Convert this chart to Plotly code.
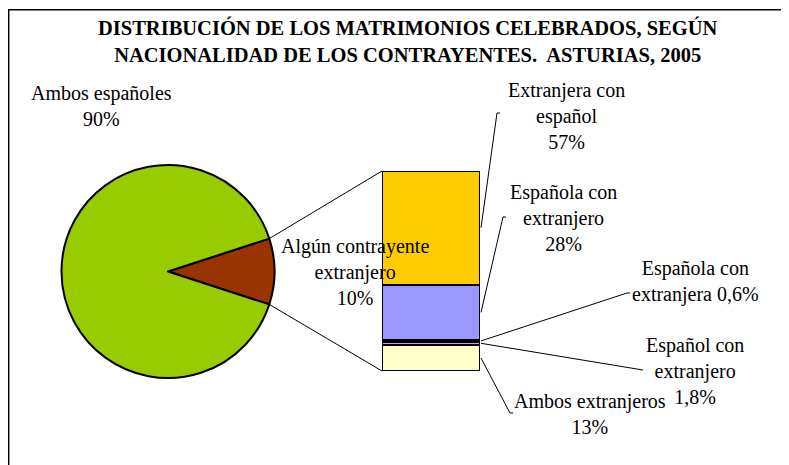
import math
import plotly.graph_objects as go

W, H = 789, 465
OFF = 8  # page body margin of the html page

# ---- data ----
pie_labels = ["Algún contrayente<br>extranjero", "Ambos españoles"]
pie_values = [10, 90]
pie_colors = ["#993300", "#99CC00"]

# bar segments, bottom to top
bar_labels = ["Ambos extranjeros", "Español con<br>extranjero",
              "Española con<br>extranjera", "Española con<br>extranjero",
              "Extranjera con<br>español"]
bar_values = [13, 1.8, 0.6, 28, 57]
bar_text = ["13%", "1,8%", "0,6%", "28%", "57%"]
bar_colors = ["#FFFFCC", "#CC99FF", "#3366FF", "#9999FF", "#FFCC00"]

title = ("DISTRIBUCIÓN DE LOS MATRIMONIOS CELEBRADOS, SEGÚN<br>"
         "NACIONALIDAD DE LOS CONTRAYENTES.  ASTURIAS, 2005")

# ---- layout geometry (page pixels) ----
def px(x):
    return (x - OFF) / W

def py(y):
    return 1 - (y - OFF) / H

pie_cx, pie_cy, pie_r = 168.0, 271.5, 106.5
bar_x0, bar_x1, bar_top, bar_bot = 382.0, 480.0, 171.0, 371.0

FONT = "Liberation Serif"
LBL_FONT = dict(family=FONT, size=20, color="black")

fig = go.Figure()

share = pie_values[0] / sum(pie_values)
half_angle = 360 * share / 2
fig.add_trace(go.Pie(
    labels=pie_labels, values=pie_values, sort=False, direction="clockwise",
    rotation=90 - half_angle,
    marker=dict(colors=pie_colors, line=dict(color="black", width=2)),
    textinfo="none", hoverinfo="label+percent", showlegend=False,
    domain=dict(x=[px(pie_cx - pie_r), px(pie_cx + pie_r)],
                y=[py(pie_cy + pie_r), py(pie_cy - pie_r)]),
))

total = sum(bar_values)
for lab, v, c in zip(bar_labels, bar_values, bar_colors):
    fig.add_trace(go.Bar(
        x=[0.5], y=[v], width=[1], name=lab, showlegend=False,
        marker=dict(color=c, line=dict(color="black", width=2)),
        hoverinfo="name+y",
    ))

fig.update_layout(
    barmode="stack",
    width=W, height=H,
    margin=dict(l=0, r=0, t=0, b=0),
    paper_bgcolor="white", plot_bgcolor="rgba(0,0,0,0)",
    xaxis=dict(domain=[px(bar_x0), px(bar_x1)], range=[0, 1], visible=False, fixedrange=True),
    yaxis=dict(domain=[py(bar_bot), py(bar_top)], range=[0, total], visible=False, fixedrange=True),
    font=LBL_FONT,
)

shapes = []
shapes.append(dict(type="rect", xref="paper", yref="paper",
                   x0=px(8.7), y0=py(9.7), x1=px(W + 40), y1=py(H + 40),
                   line=dict(color="black", width=1.5), layer="below"))

th = math.radians(half_angle)
ex = pie_cx + pie_r * math.cos(th)
ey_up = pie_cy - pie_r * math.sin(th)
ey_dn = pie_cy + pie_r * math.sin(th)
shapes.append(dict(type="line", xref="paper", yref="paper",
                   x0=px(ex), y0=py(ey_up), x1=px(bar_x0), y1=py(bar_top),
                   line=dict(color="black", width=1)))
shapes.append(dict(type="line", xref="paper", yref="paper",
                   x0=px(ex), y0=py(ey_dn), x1=px(bar_x0), y1=py(bar_bot),
                   line=dict(color="black", width=1)))

def seg_mid_y(i):
    cum = sum(bar_values[:i]) + bar_values[i] / 2
    return bar_bot - (bar_bot - bar_top) * cum / total

leader_ends = [(510, 413, 3), (643, 370, 0), (627, 293, 3), (503, 217, 3), (497, 113, 3)]
for i, (lx, ly, hook) in enumerate(leader_ends):
    sy = seg_mid_y(i)
    path = f"M {px(bar_x1 + 1)} {py(sy)} L {px(lx)} {py(ly)}"
    if hook:
        path += f" L {px(lx + hook)} {py(ly)}"
    shapes.append(dict(type="path", xref="paper", yref="paper", path=path,
                       line=dict(color="black", width=1)))

fig.update_layout(shapes=shapes)

ann = []
ann.append(dict(text=f"<b>{title}</b>", x=px(407), y=py(41), xref="paper", yref="paper",
                showarrow=False, font=dict(size=20.5, family=FONT, color="black"),
                xanchor="center", yanchor="middle"))

pie_label_pos = [(354.5, 272), (101.5, 106)]
for lab, v, (lx, ly) in zip(pie_labels, pie_values, pie_label_pos):
    ann.append(dict(text=f"{lab}<br>{v}%", x=px(lx), y=py(ly), xref="paper", yref="paper",
                    showarrow=False, xanchor="center", yanchor="middle", font=LBL_FONT))

bar_label_pos = [(590, 413.5), (695, 371), (695, 281.5), (563.5, 218), (566.5, 116)]
for i, (lab, t, (lx, ly)) in enumerate(zip(bar_labels, bar_text, bar_label_pos)):
    sep = " " if i == 2 else "<br>"
    ann.append(dict(text=f"{lab}{sep}{t}", x=px(lx), y=py(ly), xref="paper", yref="paper",
                    showarrow=False, xanchor="center", yanchor="middle", font=LBL_FONT))

fig.update_layout(annotations=ann)

fig.write_html("out.html")
